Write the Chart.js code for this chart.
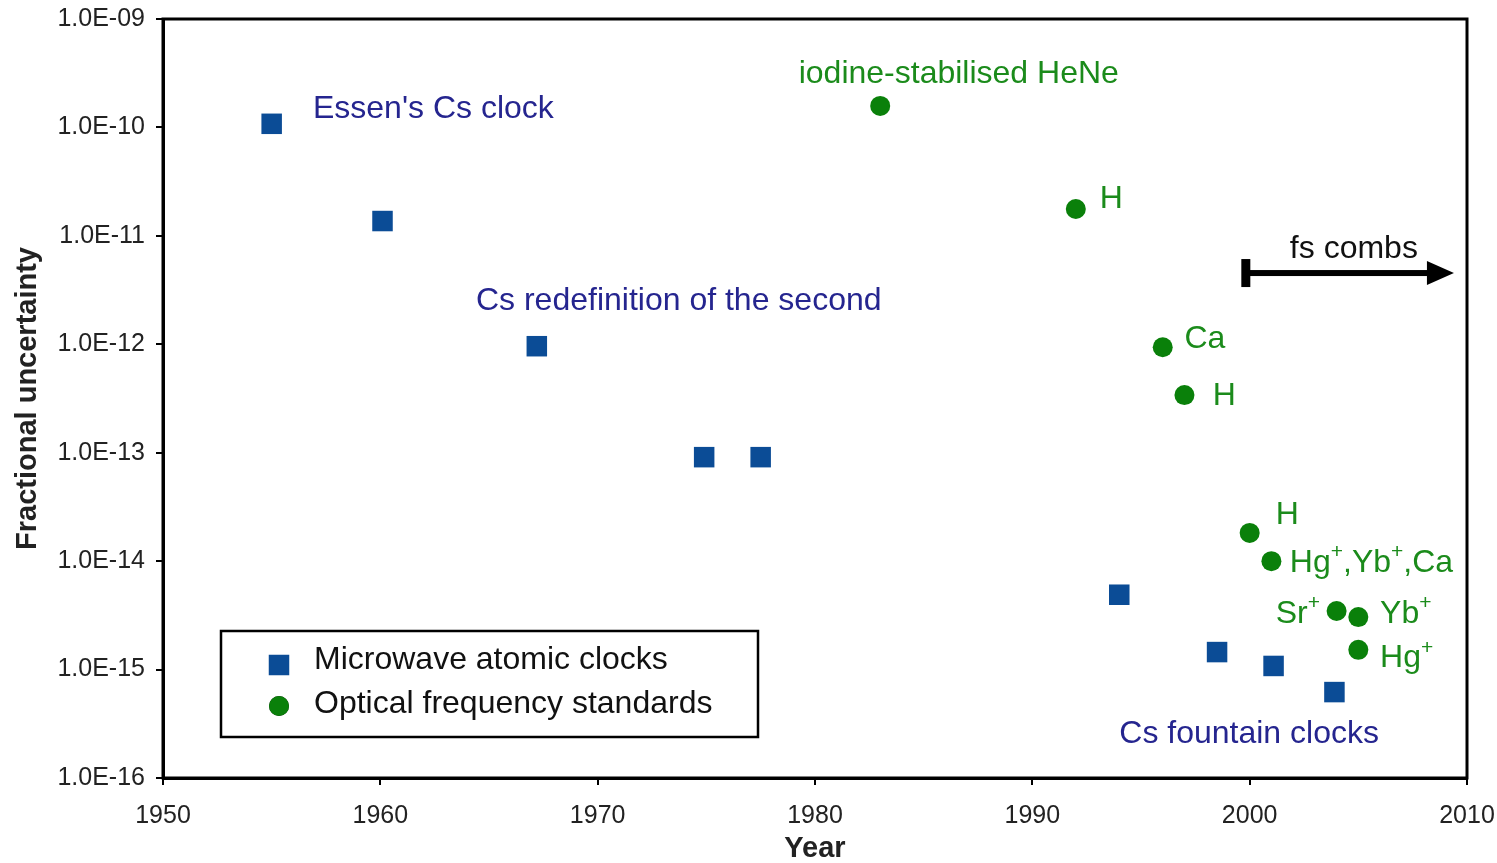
<!DOCTYPE html>
<html lang="en">
  <head>
    <meta charset="utf-8" />
    <title>Fractional uncertainty of frequency standards</title>
    <style>
      * {
        margin: 0;
        padding: 0;
      }
      body {
        background: #fff;
      }
      .chartBox {
        width: 1497px;
        height: 863px;
      }
    </style>
  </head>
  <body>
    <div class="chartBox">
      <canvas id="myChart" width="1497" height="863"></canvas>
    </div>

    <script src="https://cdn.jsdelivr.net/npm/chart.js"></script>
    <script>
      // data block
      const xTicks = [1950, 1960, 1970, 1980, 1990, 2000, 2010];
      const xTickLabels = ["1950", "1960", "1970", "1980", "1990", "2000", "2010"];
      const yTicks = [1e-16, 1e-15, 1e-14, 1e-13, 1e-12, 1e-11, 1e-10, 1e-9];
      const yTickLabels = [
        "1.0E-16", "1.0E-15", "1.0E-14", "1.0E-13",
        "1.0E-12", "1.0E-11", "1.0E-10", "1.0E-09",
      ];

      const microwaveYears = [1955, 1960.1, 1967.2, 1974.9, 1977.5, 1994, 1998.5, 2001.1, 2003.9];
      const microwaveUnc = [1.08e-10, 1.37e-11, 9.6e-13, 9.1e-14, 9.1e-14, 4.9e-15, 1.45e-15, 1.08e-15, 6.2e-16];

      const opticalYears = [1983, 1992, 1996, 1997, 2000, 2001, 2004, 2005, 2005];
      const opticalUnc = [1.58e-10, 1.77e-11, 9.4e-13, 3.4e-13, 1.82e-14, 1.0e-14, 3.47e-15, 3.05e-15, 1.52e-15];

      const seriesNames = ["Microwave atomic clocks", "Optical frequency standards"];

      const BLUE = "#0b4c96";
      const GREEN = "#0a800a";
      const NAVY = "#25258f";
      const GREEN_TEXT = "#1b8b1b";
      const FONT = "'Liberation Sans', Arial, sans-serif";

      const toPoints = (xs, ys) => xs.map((x, i) => ({ x: x, y: ys[i] }));

      // text labels placed in data coordinates (year, log10 of uncertainty)
      const notes = [
        { text: "Essen's Cs clock", x: 1956.9, e: -9.81, color: NAVY },
        { text: "iodine-stabilised HeNe", x: 1979.25, e: -9.49, color: GREEN_TEXT },
        { text: "H", x: 1993.1, e: -10.64, color: GREEN_TEXT },
        { text: "fs combs", x: 2001.85, e: -11.1, color: "#111" },
        { text: "Cs redefinition of the second", x: 1964.4, e: -11.58, color: NAVY },
        { text: "Ca", x: 1997.0, e: -11.93, color: GREEN_TEXT },
        { text: "H", x: 1998.3, e: -12.46, color: GREEN_TEXT },
        { text: "H", x: 2001.2, e: -13.56, color: GREEN_TEXT },
        { text: "Hg^+,Yb^+,Ca", x: 2001.85, e: -14.0, color: GREEN_TEXT },
        { text: "Sr^+", x: 2001.2, e: -14.47, color: GREEN_TEXT },
        { text: "Yb^+", x: 2006.0, e: -14.47, color: GREEN_TEXT },
        { text: "Hg^+", x: 2006.0, e: -14.88, color: GREEN_TEXT },
        { text: "Cs fountain clocks", x: 1994.0, e: -15.58, color: NAVY },
      ];

      // draws text with "^+" rendered as a raised small plus
      const drawRich = (ctx, str, x, y, size) => {
        const parts = str.split(/(\^\+)/);
        let cx = x;
        parts.forEach((p) => {
          if (!p) return;
          if (p === "^+") {
            ctx.font = `${Math.round(size * 0.65)}px ${FONT}`;
            ctx.fillText("+", cx, y - size * 0.33);
            cx += ctx.measureText("+").width;
          } else {
            ctx.font = `${size}px ${FONT}`;
            ctx.fillText(p, cx, y);
            cx += ctx.measureText(p).width;
          }
        });
      };

      // notes + arrow + frame + legend plugin
      const chartNotes = {
        id: "chartNotes",
        afterDatasetsDraw(chart, args, options) {
          const {
            ctx,
            chartArea,
            scales: { x, y },
          } = chart;
          ctx.save();

          ctx.textBaseline = "middle";
          ctx.textAlign = "left";
          notes.forEach((n) => {
            ctx.fillStyle = n.color;
            drawRich(ctx, n.text, x.getPixelForValue(n.x), y.getPixelForValue(Math.pow(10, n.e)) + 2, options.fontSize);
          });

          // fs combs arrow
          const ay = y.getPixelForValue(Math.pow(10, -11.343));
          const ax0 = x.getPixelForValue(1999.8);
          const ax1 = x.getPixelForValue(2009.4);
          ctx.fillStyle = "#000";
          ctx.fillRect(ax0 - 4, ay - 14, 9, 28);
          ctx.fillRect(ax0, ay - 3, ax1 - ax0 - 24, 6);
          ctx.beginPath();
          ctx.moveTo(ax1, ay);
          ctx.lineTo(ax1 - 27, ay - 12);
          ctx.lineTo(ax1 - 27, ay + 12);
          ctx.closePath();
          ctx.fill();

          // frame
          ctx.strokeStyle = "#000";
          ctx.lineWidth = 3;
          ctx.strokeRect(chartArea.left, chartArea.top, chartArea.right - chartArea.left, chartArea.bottom - chartArea.top);

          // legend box
          const lg = options.legend;
          ctx.fillStyle = "#fff";
          ctx.fillRect(lg.x, lg.y, lg.w, lg.h);
          ctx.lineWidth = 2.5;
          ctx.strokeRect(lg.x, lg.y, lg.w, lg.h);
          chart.data.datasets.forEach((ds, i) => {
            const my = lg.y + 34 + i * 41;
            Chart.helpers.drawPoint(
              ctx,
              {
                pointStyle: ds.pointStyle,
                radius: ds.pointStyle === "rect" ? 14.5 : 10,
                borderWidth: 0,
                rotation: 0,
              },
              lg.x + 58,
              my
            );
            ctx.fillStyle = ds.backgroundColor;
            ctx.fill();
            ctx.fillStyle = "#111";
            ctx.font = `${options.fontSize}px ${FONT}`;
            ctx.fillText(ds.label, lg.x + 93, my - 5 + i * 3);
          });

          ctx.restore();
        },
      };

      const data = {
        datasets: [
          {
            label: seriesNames[0],
            data: toPoints(microwaveYears, microwaveUnc),
            pointStyle: "rect",
            pointRadius: 14.5,
            pointHoverRadius: 14.5,
            backgroundColor: BLUE,
            borderColor: BLUE,
            borderWidth: 0,
          },
          {
            label: seriesNames[1],
            data: toPoints(opticalYears, opticalUnc),
            pointStyle: "circle",
            pointRadius: 10,
            pointHoverRadius: 10,
            backgroundColor: GREEN,
            borderColor: GREEN,
            borderWidth: 0,
          },
        ],
      };

      const config = {
        type: "scatter",
        data: data,
        options: {
          responsive: false,
          animation: false,
          layout: {
            padding: { left: 0, top: 19, right: 30, bottom: 0 },
          },
          plugins: {
            legend: { display: false },
            tooltip: { enabled: false },
            chartNotes: {
              fontSize: 32,
              legend: { x: 221, y: 631, w: 537, h: 106 },
            },
          },
          scales: {
            x: {
              type: "linear",
              min: 1950,
              max: 2010,
              afterBuildTicks: (scale) => {
                scale.ticks = xTicks.map((v) => ({ value: v }));
              },
              afterFit: (scale) => {
                scale.height = 85;
                scale.paddingLeft = 0;
                scale.paddingRight = 0;
              },
              grid: {
                drawOnChartArea: false,
                drawTicks: true,
                tickLength: 7,
                color: "#000",
                lineWidth: 2,
              },
              border: { display: true, color: "#000", width: 3 },
              ticks: {
                autoSkip: false,
                maxRotation: 0,
                padding: 16,
                color: "#222",
                font: { family: FONT, size: 25 },
                callback: (v, i) => xTickLabels[i],
              },
              title: {
                display: true,
                text: "Year",
                color: "#222",
                font: { family: FONT, size: 29, weight: "bold", lineHeight: 1 },
                padding: { top: 0, bottom: 0 },
              },
            },
            y: {
              type: "logarithmic",
              min: 1e-16,
              max: 1e-9,
              afterBuildTicks: (scale) => {
                scale.ticks = yTicks.map((v) => ({ value: v }));
              },
              afterFit: (scale) => {
                scale.width = 163;
                scale.paddingTop = 0;
                scale.paddingBottom = 0;
              },
              grid: {
                drawOnChartArea: false,
                drawTicks: true,
                tickLength: 7,
                color: "#000",
                lineWidth: 2,
              },
              border: { display: true, color: "#000", width: 3 },
              ticks: {
                autoSkip: false,
                padding: 11,
                color: "#222",
                font: { family: FONT, size: 25 },
                callback: (v, i) => yTickLabels[i],
              },
              title: {
                display: true,
                text: "Fractional uncertainty",
                color: "#222",
                font: { family: FONT, size: 29, weight: "bold", lineHeight: 1 },
                padding: { top: 13, bottom: 0 },
              },
            },
          },
        },
        plugins: [chartNotes],
      };

      // init render block
      const myChart = new Chart(document.getElementById("myChart"), config);
    </script>
  </body>
</html>
